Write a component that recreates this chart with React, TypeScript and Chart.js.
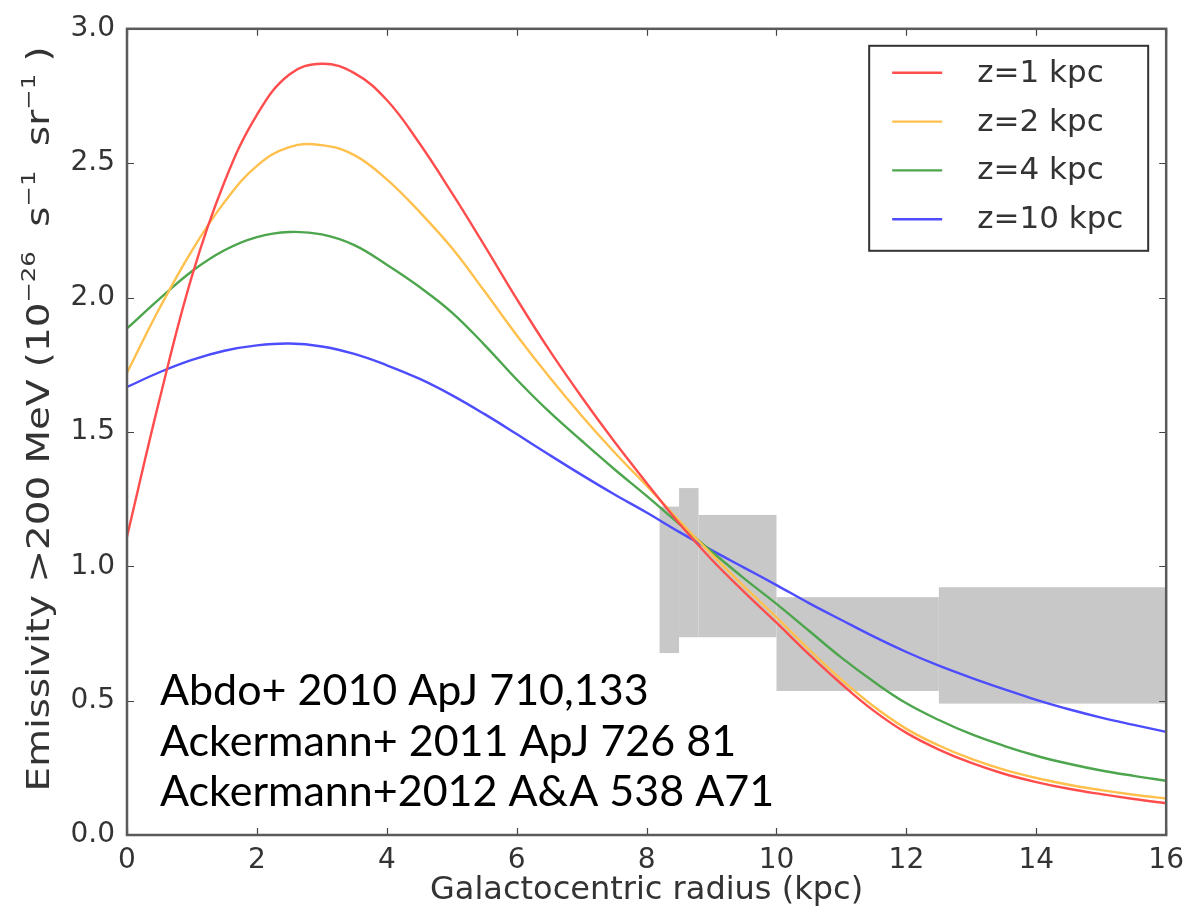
import React, { useEffect, useRef } from "react";
import { Chart, registerables } from "chart.js";

Chart.register(...registerables);

// Galactocentric radius (kpc) sample points
const radius = [0, 0.5, 1, 1.5, 2, 2.5, 3, 3.5, 4, 4.5, 5, 5.5, 6, 6.5, 7, 7.5, 8, 8.5, 9, 9.5, 10, 10.5, 11, 11.5, 12, 12.5, 13, 13.5, 14, 14.5, 15, 15.5, 16];

const emissZ1 = [1.11, 1.62, 2.08, 2.43, 2.68, 2.83, 2.87, 2.835, 2.735, 2.575, 2.39, 2.195, 1.995, 1.805, 1.63, 1.465, 1.31, 1.16, 1.025, 0.905, 0.79, 0.672, 0.562, 0.462, 0.38, 0.318, 0.268, 0.228, 0.197, 0.172, 0.152, 0.134, 0.118];
const emissZ2 = [1.72, 1.96, 2.175, 2.355, 2.49, 2.56, 2.567, 2.53, 2.44, 2.32, 2.185, 2.025, 1.86, 1.705, 1.56, 1.425, 1.3, 1.17, 1.045, 0.925, 0.81, 0.69, 0.578, 0.478, 0.395, 0.333, 0.283, 0.243, 0.212, 0.187, 0.167, 0.15, 0.136];
const emissZ4 = [1.885, 1.995, 2.098, 2.176, 2.225, 2.244, 2.235, 2.195, 2.122, 2.04, 1.945, 1.825, 1.695, 1.575, 1.467, 1.362, 1.262, 1.158, 1.055, 0.955, 0.86, 0.76, 0.66, 0.57, 0.49, 0.428, 0.375, 0.332, 0.295, 0.265, 0.24, 0.22, 0.202];
const emissZ10 = [1.667, 1.722, 1.768, 1.802, 1.822, 1.829, 1.818, 1.79, 1.748, 1.698, 1.637, 1.567, 1.492, 1.415, 1.34, 1.268, 1.2, 1.128, 1.06, 0.995, 0.93, 0.863, 0.8, 0.738, 0.681, 0.63, 0.585, 0.543, 0.503, 0.468, 0.437, 0.41, 0.384];

const seriesLabels = ["z=1 kpc", "z=2 kpc", "z=4 kpc", "z=10 kpc"];
const seriesColors = ["#ff4d4d", "#ffc04d", "#4da64d", "#4d4dff"];

// Measured emissivity bands (grey boxes)
const bandStart = [8.2, 8.5, 8.8, 10.0, 12.5];
const bandEnd = [8.5, 8.8, 10.0, 12.5, 16.0];
const bandLow = [0.677, 0.736, 0.736, 0.536, 0.489];
const bandHigh = [1.222, 1.291, 1.191, 0.885, 0.922];

const xTicks = [0, 2, 4, 6, 8, 10, 12, 14, 16];
const yTicks = [0, 0.5, 1.0, 1.5, 2.0, 2.5, 3.0];

const xTitle = "Galactocentric radius (kpc)";
const refLines = ["Abdo+ 2010 ApJ 710,133", "Ackermann+ 2011 ApJ 726 81", "Ackermann+2012 A&A 538 A71"];

const TXT = "#333333";
const FONT = "'DejaVu Sans', sans-serif";

const overlayPlugin = {
  id: "overlay",
  beforeDatasetsDraw(chart: any) {
    const { ctx, chartArea: a, scales } = chart;
    const xs = scales.x, ys = scales.y;
    ctx.save();
    ctx.beginPath();
    ctx.rect(a.left, a.top, a.right - a.left, a.bottom - a.top);
    ctx.clip();
    ctx.fillStyle = "#c8c8c8";
    for (let i = 0; i < bandStart.length; i++) {
      const x0 = xs.getPixelForValue(bandStart[i]);
      const x1 = xs.getPixelForValue(bandEnd[i]);
      const y0 = ys.getPixelForValue(bandHigh[i]);
      const y1 = ys.getPixelForValue(bandLow[i]);
      ctx.fillRect(x0, y0, x1 - x0, y1 - y0);
    }
    ctx.restore();
  },
  afterDatasetsDraw(chart: any) {
    const { ctx, chartArea: a, scales } = chart;
    const xs = scales.x, ys = scales.y;
    ctx.save();
    // inward ticks on all sides
    ctx.strokeStyle = "#444";
    ctx.lineWidth = 1.2;
    const tl = 7;
    ctx.beginPath();
    for (const v of xTicks) {
      const px = Math.round(xs.getPixelForValue(v)) + 0.5;
      ctx.moveTo(px, a.bottom); ctx.lineTo(px, a.bottom - tl);
      ctx.moveTo(px, a.top); ctx.lineTo(px, a.top + tl);
    }
    for (const v of yTicks) {
      const py = Math.round(ys.getPixelForValue(v)) + 0.5;
      ctx.moveTo(a.left, py); ctx.lineTo(a.left + tl, py);
      ctx.moveTo(a.right, py); ctx.lineTo(a.right - tl, py);
    }
    ctx.stroke();
    // frame
    ctx.strokeStyle = "#5a5a5a";
    ctx.lineWidth = 2.5;
    ctx.strokeRect(a.left, a.top, a.right - a.left, a.bottom - a.top);

    // legend
    const lx0 = a.right - 297, ly0 = a.top + 17, lw = 279, lh = 205;
    ctx.fillStyle = "#fff";
    ctx.fillRect(lx0, ly0, lw, lh);
    ctx.strokeStyle = "#333";
    ctx.lineWidth = 2;
    ctx.strokeRect(lx0, ly0, lw, lh);
    ctx.font = `31px ${FONT}`;
    ctx.textBaseline = "middle";
    ctx.textAlign = "left";
    chart.data.datasets.forEach((ds: any, i: number) => {
      const ry = ly0 + 27 + i * 48.8;
      ctx.strokeStyle = ds.borderColor;
      ctx.lineWidth = 2.4;
      ctx.beginPath();
      ctx.moveTo(lx0 + 23, ry); ctx.lineTo(lx0 + 73, ry);
      ctx.stroke();
      ctx.fillStyle = TXT;
      ctx.fillText(ds.label, lx0 + 108, ry + 1);
    });

    // reference annotation
    ctx.fillStyle = "#000";
    ctx.font = `43px Lato, 'Open Sans', sans-serif`;
    ctx.textBaseline = "alphabetic";
    refLines.forEach((t, i) => {
      ctx.fillText(t, a.left + 33, a.bottom - 130 + i * 50.5);
    });

    // x title
    ctx.fillStyle = TXT;
    ctx.font = `32px ${FONT}`;
    ctx.textAlign = "center";
    ctx.fillText(xTitle, (a.left + a.right) / 2, a.bottom + 64);

    // y title with superscripts, fitted to the measured length
    const fs = 32, sfs = 20;
    const pieces: { t: string; sup: boolean }[] = [
      { t: "Emissivity >200 MeV (10", sup: false },
      { t: "\u221226", sup: true },
      { t: "  s", sup: false },
      { t: "\u22121", sup: true },
      { t: "  sr", sup: false },
      { t: "\u22121", sup: true },
      { t: " )", sup: false },
    ];
    let total = 0;
    const widths = pieces.map((p) => {
      ctx.font = `${p.sup ? sfs : fs}px ${FONT}`;
      const w = ctx.measureText(p.t).width;
      total += w;
      return w;
    });
    const target = 745;
    const sx = target / total;
    ctx.translate(a.left - 78, (a.top + a.bottom) / 2 - 13);
    ctx.rotate(-Math.PI / 2);
    ctx.scale(sx, 1);
    ctx.textAlign = "left";
    let cx = -total / 2;
    pieces.forEach((p, i) => {
      ctx.font = `${p.sup ? sfs : fs}px ${FONT}`;
      ctx.fillText(p.t, cx, p.sup ? -14 : 0);
      cx += widths[i];
    });
    ctx.restore();
  },
};

export default function App() {
  const ref = useRef<HTMLCanvasElement>(null);
  useEffect(() => {
    const canvas = ref.current;
    if (!canvas) return;
    const seriesValues = [emissZ1, emissZ2, emissZ4, emissZ10];
    const chart = new Chart(canvas, {
      type: "line",
      data: {
        datasets: seriesValues.map((vals, i) => ({
          label: seriesLabels[i],
          data: radius.map((r, j) => ({ x: r, y: vals[j] })),
          borderColor: seriesColors[i],
          backgroundColor: seriesColors[i],
          borderWidth: 2.4,
          pointRadius: 0,
          tension: 0.4,
          fill: false,
        })),
      },
      options: {
        responsive: false,
        animation: false,
        layout: { padding: { left: 0, right: 19, top: 27, bottom: 0 } },
        plugins: { legend: { display: false }, tooltip: { enabled: false } },
        scales: {
          x: {
            type: "linear",
            min: 0,
            max: 16,
            afterBuildTicks: (s: any) => {
              s.ticks = xTicks.map((v) => ({ value: v }));
            },
            afterFit: (s: any) => {
              s.height = 78;
            },
            grid: { display: false, drawTicks: false },
            border: { display: false },
            ticks: {
              padding: 9,
              autoSkip: false,
              maxRotation: 0,
              color: TXT,
              font: { family: FONT, size: 28 },
              callback: (v: any) => String(v),
            },
          },
          y: {
            type: "linear",
            min: 0,
            max: 3,
            afterBuildTicks: (s: any) => {
              s.ticks = yTicks.map((v) => ({ value: v }));
            },
            afterFit: (s: any) => {
              s.width = 127;
            },
            grid: { display: false, drawTicks: false },
            border: { display: false },
            ticks: {
              padding: 12,
              autoSkip: false,
              color: TXT,
              font: { family: FONT, size: 28 },
              callback: (v: any) => Number(v).toFixed(1),
            },
          },
        },
      },
      plugins: [overlayPlugin],
    });
    return () => chart.destroy();
  }, []);
  return (
    <div style={{ position: "fixed", left: 0, top: 0, width: 1193, height: 913, background: "#fff" }}>
      <canvas ref={ref} width={1193} height={913} style={{ display: "block" }} />
    </div>
  );
}
